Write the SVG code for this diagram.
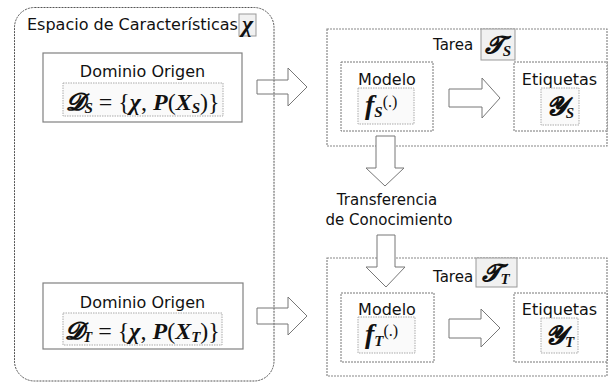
<svg xmlns="http://www.w3.org/2000/svg" width="608" height="383" viewBox="0 0 608 383">
<defs>
<style>
.lbl{font-family:"DejaVu Sans","Liberation Sans",sans-serif;font-size:16px;fill:#111}
.sm{font-size:15px}
.math{font-family:"Liberation Serif","DejaVu Serif",serif;font-size:24px;fill:#111}
.bi{font-weight:bold;font-style:italic}
.sub{font-size:15px}
.space{fill:none;stroke:#555;stroke-width:1;stroke-dasharray:2 1}
.dom{fill:#fff;stroke:#808080;stroke-width:1.2}
.fbox{fill:#fafafa;stroke:#aaa;stroke-width:1;stroke-dasharray:1.5 1}
.sym{fill:#f1f1f1;stroke:#999;stroke-width:1}
.task{fill:none;stroke:#888;stroke-width:1.2;stroke-dasharray:2 1}
.inner{fill:#fff;stroke:#777;stroke-width:1;stroke-dasharray:2 1}
.arr{fill:#fff;stroke:#777;stroke-width:1}
.arrn{fill:none;stroke:#777;stroke-width:1}
</style>
</defs>
<rect width="608" height="383" fill="#fff"/>

<g id="espacio">
<rect class="space" x="14.5" y="7.5" width="259.5" height="373.5" rx="20" ry="20"/>
<text class="lbl" x="27" y="30">Espacio de Características</text>
<rect class="sym" x="239" y="14" width="17" height="22"/>
<text class="math bi" x="247.5" y="32" text-anchor="middle" font-size="22">χ</text>
</g>

<g id="dominio-s">
<rect class="dom" x="43" y="53" width="199" height="69"/>
<text class="lbl" x="142.5" y="77" text-anchor="middle">Dominio Origen</text>
<rect class="fbox" x="63" y="83" width="160" height="33"/>
<text class="math" x="143" y="110" text-anchor="middle"><tspan class="bi">𝓓</tspan><tspan class="bi sub" dy="3">S</tspan><tspan dy="-3"> = {</tspan><tspan class="bi">χ</tspan>, <tspan class="bi">P</tspan>(<tspan class="bi">X</tspan><tspan class="bi sub" dy="3">S</tspan><tspan dy="-3">)}</tspan></text>
</g>

<g id="dominio-t">
<rect class="dom" x="43" y="283" width="200" height="66"/>
<text class="lbl" x="142.5" y="308" text-anchor="middle">Dominio Origen</text>
<rect class="fbox" x="63" y="313" width="159" height="32"/>
<text class="math" x="142.5" y="339" text-anchor="middle"><tspan class="bi">𝓓</tspan><tspan class="bi sub" dy="3">T</tspan><tspan dy="-3"> = {</tspan><tspan class="bi">χ</tspan>, <tspan class="bi">P</tspan>(<tspan class="bi">X</tspan><tspan class="bi sub" dy="3">T</tspan><tspan dy="-3">)}</tspan></text>
</g>

<g id="connectors">
<path class="arrn" d="M257,80 H288 V68 L307,87 L288,106 V94 H257 Z"/>
<path class="arrn" d="M257,308 H288 V297 L307,316 L288,335 V324 H257 Z"/>
</g>

<g id="tarea-s">
<rect class="task" x="327" y="29" width="280" height="117"/>
<text class="lbl sm" x="433" y="50">Tarea</text>
<rect class="sym" x="481" y="29" width="34" height="31"/>
<text class="math" x="498" y="53" text-anchor="middle"><tspan class="bi">𝓣</tspan><tspan class="bi sub" dy="3">S</tspan></text>
</g>

<g id="modelo-s">
<rect class="inner" x="341" y="62" width="92" height="69"/>
<text class="lbl" x="387" y="85" text-anchor="middle">Modelo</text>
<rect class="fbox" x="358" y="88" width="56" height="36"/>
<text class="math" x="365" y="114"><tspan class="bi" font-size="28">f</tspan><tspan class="bi sub" dy="3">S</tspan><tspan font-size="16" dy="-10">(.)</tspan></text>
</g>

<g id="etiquetas-s">
<rect class="inner" x="514" y="62" width="93" height="69"/>
<text class="lbl" x="559.5" y="85" text-anchor="middle">Etiquetas</text>
<rect class="fbox" x="541" y="88" width="38" height="37"/>
<text class="math" x="560" y="115" text-anchor="middle"><tspan class="bi" font-size="26">𝓨</tspan><tspan class="bi sub" dy="3">S</tspan></text>
</g>

<g id="transferencia">
<text class="lbl sm" x="387" y="205" text-anchor="middle">Transferencia</text>
<text class="lbl sm" x="389" y="225" text-anchor="middle">de Conocimiento</text>
</g>

<g id="tarea-t">
<rect class="task" x="327" y="258" width="280" height="118"/>
<text class="lbl sm" x="433" y="282">Tarea</text>
<rect class="sym" x="476" y="258" width="41" height="29"/>
<text class="math" x="496" y="281" text-anchor="middle"><tspan class="bi">𝓣</tspan><tspan class="bi sub" dy="3">T</tspan></text>
</g>

<g id="modelo-t">
<rect class="inner" x="341" y="293" width="93" height="69"/>
<text class="lbl" x="387" y="315" text-anchor="middle">Modelo</text>
<rect class="fbox" x="358" y="317" width="57" height="36"/>
<text class="math" x="365" y="343"><tspan class="bi" font-size="28">f</tspan><tspan class="bi sub" dy="3">T</tspan><tspan font-size="16" dy="-10">(.)</tspan></text>
</g>

<g id="etiquetas-t">
<rect class="inner" x="514" y="293" width="93" height="69"/>
<text class="lbl" x="559.5" y="315" text-anchor="middle">Etiquetas</text>
<rect class="fbox" x="541" y="318" width="37" height="35"/>
<text class="math" x="559.5" y="344" text-anchor="middle"><tspan class="bi" font-size="26">𝓨</tspan><tspan class="bi sub" dy="3">T</tspan></text>
</g>

<g id="connectors-task">
<path class="arr" d="M449,89 H482 V78 L500,98 L482,118 V107 H449 Z"/>
<path class="arr" d="M449,319 H481 V309 L500,328 L481,347 V338 H449 Z"/>
<path class="arr" d="M376,136 V168 H366 L385,186 L404,168 H395 V136 Z"/>
<path class="arr" d="M377,235 V267 H366 L386,287 L405,267 H395 V235 Z"/>
</g>
</svg>
